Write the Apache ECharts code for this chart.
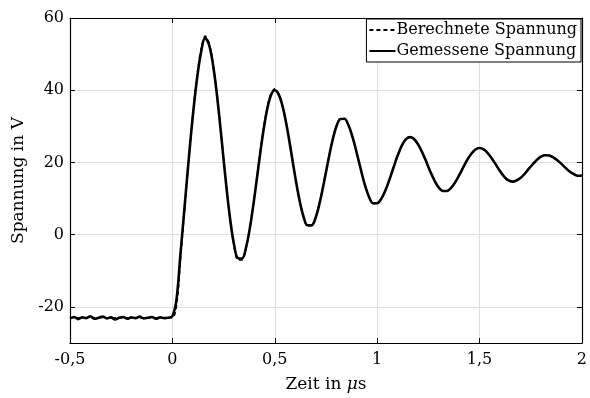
<!DOCTYPE html>
<html>
<head>
<meta charset="utf-8">
<script src="https://cdn.jsdelivr.net/npm/echarts@6/dist/echarts.min.js"></script>
<style>
  html, body { margin: 0; padding: 0; background: #fff; }
  #chart { width: 590px; height: 398px; }
</style>
</head>
<body>
<div id="chart"></div>
<script>
// Zeitachse in µs
var zeit = [
  -0.5, -0.48, -0.46, -0.44, -0.42, -0.4, -0.38, -0.36, -0.34, -0.32,
  -0.3, -0.28, -0.26, -0.24, -0.22, -0.2, -0.18, -0.16, -0.14, -0.12,
  -0.1, -0.08, -0.06, -0.04, -0.02,
  0, 0.02, 0.04, 0.06, 0.08, 0.1, 0.12, 0.14, 0.16, 0.18,
  0.2, 0.22, 0.24, 0.26, 0.28, 0.3, 0.32, 0.34, 0.36, 0.38,
  0.4, 0.42, 0.44, 0.46, 0.48, 0.5, 0.52, 0.54, 0.56, 0.58,
  0.6, 0.62, 0.64, 0.66, 0.68, 0.7, 0.72, 0.74, 0.76, 0.78,
  0.8, 0.82, 0.84, 0.86, 0.88, 0.9, 0.92, 0.94, 0.96, 0.98,
  1, 1.02, 1.04, 1.06, 1.08, 1.1, 1.12, 1.14, 1.16, 1.18,
  1.2, 1.22, 1.24, 1.26, 1.28, 1.3, 1.32, 1.34, 1.36, 1.38,
  1.4, 1.42, 1.44, 1.46, 1.48, 1.5, 1.52, 1.54, 1.56, 1.58,
  1.6, 1.62, 1.64, 1.66, 1.68, 1.7, 1.72, 1.74, 1.76, 1.78,
  1.8, 1.82, 1.84, 1.86, 1.88, 1.9, 1.92, 1.94, 1.96, 1.98,
  2
]

// Gemessene Spannung in V
var gemessen = [
  -23.2, -22.8, -23.4, -22.9, -23.1, -22.6, -23.3, -23.0, -22.7, -23.2,
  -22.9, -23.5, -23.0, -22.8, -23.3, -22.9, -23.1, -22.7, -23.2, -23.0,
  -22.8, -23.3, -22.9, -23.1, -23.0,
  -22.6, -18, -5, 8, 21, 33, 43, 50.5, 54.5, 52.4,
  46.5, 37.5, 26.6, 15.3, 5.2, -2.4, -6.5, -6.6, -3.5, 2.4,
  10.1, 18.7, 27.0, 33.9, 38.4, 40, 38.7, 35.1, 29.6, 22.9,
  16.0, 9.8, 5.1, 2.6, 2.6, 4.8, 9.0, 14.4, 20.2, 25.6,
  29.8, 32.0, 32.1, 30.3, 27.0, 22.7, 18.1, 13.8, 10.5, 8.7,
  8.7, 9.9, 12.2, 15.2, 18.6, 21.9, 24.6, 26.4, 27, 26.5,
  25.0, 22.8, 20.2, 17.4, 15.0, 13.1, 12.1, 12.1, 12.9, 14.4,
  16.4, 18.6, 20.7, 22.4, 23.6, 24, 23.6, 22.6, 21.1, 19.4,
  17.6, 16.1, 15.1, 14.7, 15.0, 15.7, 16.8, 18.2, 19.5, 20.7,
  21.6, 22.0, 21.9, 21.4, 20.6, 19.6, 18.5, 17.5, 16.8, 16.3,
  16.4
]

// Berechnete Spannung in V
var berechnet = [
  -23, -23, -23, -23, -23, -23, -23, -23, -23, -23,
  -23, -23, -23, -23, -23, -23, -23, -23, -23, -23,
  -23, -23, -23, -23, -23,
  -23, -20, -7, 7, 20.5, 33.5, 44, 51.5, 55, 53,
  47, 38, 27, 15.5, 5, -2.8, -7, -7, -3.6, 2.6,
  10.5, 19.2, 27.6, 34.4, 38.9, 40.4, 39, 35.3, 29.7, 22.9,
  15.9, 9.6, 4.9, 2.4, 2.5, 4.8, 9.1, 14.6, 20.4, 25.8,
  30, 32.2, 32.2, 30.3, 26.9, 22.6, 18, 13.7, 10.4, 8.6,
  8.7, 10, 12.3, 15.3, 18.7, 22, 24.7, 26.5, 27.1, 26.5,
  25, 22.7, 20.1, 17.3, 14.9, 13, 12, 12, 12.9, 14.4,
  16.5, 18.7, 20.8, 22.5, 23.7, 24.1, 23.7, 22.6, 21.1, 19.3,
  17.5, 16, 15, 14.7, 15, 15.8, 16.9, 18.3, 19.6, 20.8,
  21.7, 22.1, 22, 21.5, 20.6, 19.6, 18.5, 17.5, 16.7, 16.2,
  16.3
]

var xTicks = [-0.5, 0, 0.5, 1, 1.5, 2]
var yTicks = [-20, 0, 20, 40, 60]

var schrift = 'DejaVu Serif'

function paare (xs, ys) {
  return xs.map(function (x, i) { return [x, ys[i]] })
}

var chart = echarts.init(document.getElementById('chart'))

var achsenLinie = { show: true, onZero: false, lineStyle: { color: '#000', width: 1.2 } }
var tick = { show: true, inside: true, length: 5, lineStyle: { color: '#000' } }

chart.setOption({
  animation: false,
  backgroundColor: '#fff',
  grid: { left: 70, right: 6, top: 18, bottom: 55 },
  legend: {
    orient: 'vertical',
    right: 9,
    top: 19,
    padding: [3, 4, 3, 2],
    itemGap: 5,
    itemWidth: 26,
    itemHeight: 10,
    backgroundColor: '#fff',
    borderColor: '#000',
    borderWidth: 1,
    itemStyle: { opacity: 0 },
    textStyle: { fontFamily: schrift, fontSize: 16, color: '#000', padding: [0, 0, 0, -4] },
    data: ['Berechnete Spannung', 'Gemessene Spannung']
  },
  xAxis: [{
    type: 'value',
    min: xTicks[0],
    max: xTicks[xTicks.length - 1],
    interval: 0.5,
    name: 'Zeit in {i|μ}s',
    nameLocation: 'middle',
    nameGap: 33,
    nameTextStyle: {
      fontFamily: schrift, fontSize: 17, color: '#000',
      rich: { i: { fontFamily: schrift, fontSize: 17, fontStyle: 'italic', color: '#000' } }
    },
    axisLine: achsenLinie,
    axisTick: tick,
    axisLabel: {
      fontFamily: schrift, fontSize: 16, color: '#000', margin: 9,
      formatter: function (v) { return String(v).replace('.', ',') }
    },
    splitLine: { show: true, lineStyle: { color: '#dedede', width: 1 } }
  }, {
    type: 'value',
    position: 'top',
    min: xTicks[0],
    max: xTicks[xTicks.length - 1],
    interval: 0.5,
    axisLine: achsenLinie,
    axisTick: tick,
    axisLabel: { show: false },
    splitLine: { show: false }
  }],
  yAxis: [{
    type: 'value',
    min: -30,
    max: 60,
    splitNumber: 4,
    name: 'Spannung in V',
    nameLocation: 'middle',
    nameGap: 42,
    nameTextStyle: { fontFamily: schrift, fontSize: 17, color: '#000' },
    axisLine: achsenLinie,
    axisTick: tick,
    axisLabel: {
      fontFamily: schrift, fontSize: 16, color: '#000', margin: 6,
      showMinLabel: false,
      formatter: function (v) { return yTicks.indexOf(v) >= 0 ? String(v) : '' }
    },
    splitLine: { show: true, lineStyle: { color: '#dedede', width: 1 } }
  }, {
    type: 'value',
    position: 'right',
    min: -30,
    max: 60,
    splitNumber: 4,
    axisLine: achsenLinie,
    axisTick: tick,
    axisLabel: { show: false },
    splitLine: { show: false }
  }],
  series: [{
    name: 'Berechnete Spannung',
    type: 'line',
    smooth: 0.35,
    symbol: 'none',
    color: '#000',
    lineStyle: { color: '#000', width: 1.4, type: [4, 3] },
    data: paare(zeit, berechnet)
  }, {
    name: 'Gemessene Spannung',
    type: 'line',
    smooth: 0.35,
    symbol: 'none',
    color: '#000',
    lineStyle: { color: '#000', width: 2.6 },
    data: paare(zeit, gemessen)
  }]
})
</script>
</body>
</html>
